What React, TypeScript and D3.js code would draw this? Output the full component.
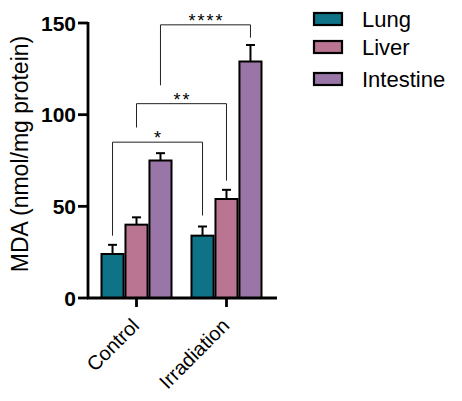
import React from 'react';
import * as d3 from 'd3';

// groups and tissues
const groups = ['Control', 'Irradiation'];
const tissues = ['Lung', 'Liver', 'Intestine'];
const tissueColors = ['#0f7388', '#b97592', '#9a76a8'];

// mean values and upper error (SD) per group, in tissue order
const controlMeans = [24, 40, 75];
const controlErr = [5, 4, 4];
const irradiationMeans = [34, 54, 129];
const irradiationErr = [5, 5, 9];

const yTicks = [0, 50, 100, 150];

// significance brackets between Control and Irradiation of the same tissue
const brackets = [
  { tissue: 0, label: '*', top: 85, leftEnd: 34, rightEnd: 45 },
  { tissue: 1, label: '**', top: 106, leftEnd: 93, rightEnd: 64 },
  { tissue: 2, label: '****', top: 149, leftEnd: 116, rightEnd: 142 },
];

const W = 462;
const H = 401;
const axisX = 88;

export default function App() {
  const y = d3.scaleLinear().domain([0, 150]).range([298, 23]);
  const x0 = d3.scaleBand().domain(groups).range([axisX, 275]).paddingInner(0.222).paddingOuter(0.15);
  const x1 = d3.scaleBand().domain(tissues).range([0, x0.bandwidth()]).paddingInner(0.08);

  const means = [controlMeans, irradiationMeans];
  const errs = [controlErr, irradiationErr];
  const font = 'Arial, "Liberation Sans", sans-serif';

  const barCenter = (g: number, t: number) => (x0(groups[g]) ?? 0) + (x1(tissues[t]) ?? 0) + x1.bandwidth() / 2;

  return (
    <svg width={W} height={H} style={{ position: 'absolute', left: 0, top: 0 }} fontFamily={font}>
      {/* bars */}
      {groups.map((g, gi) =>
        tissues.map((t, ti) => {
          const bx = (x0(g) ?? 0) + (x1(t) ?? 0);
          const cx = bx + x1.bandwidth() / 2;
          const top = y(means[gi][ti]);
          const errTop = y(means[gi][ti] + errs[gi][ti]);
          return (
            <g key={g + t}>
              <line x1={cx} x2={cx} y1={top} y2={errTop} stroke="#000" strokeWidth={2} />
              <line x1={cx - 4.5} x2={cx + 4.5} y1={errTop} y2={errTop} stroke="#000" strokeWidth={2} />
              <rect x={bx} y={top} width={x1.bandwidth()} height={y(0) - top}
                fill={tissueColors[ti]} stroke="#000" strokeWidth={2} />
            </g>
          );
        })
      )}

      {/* brackets */}
      {brackets.map((b, i) => {
        const lx = barCenter(0, b.tissue);
        const rx = barCenter(1, b.tissue);
        const ty = y(b.top);
        return (
          <g key={i}>
            <path d={`M${lx},${y(b.leftEnd)}V${ty}H${rx}V${y(b.rightEnd)}`} fill="none" stroke="#222" strokeWidth={1} />
            <text x={(lx + rx) / 2 + 1} y={ty + 2} textAnchor="middle" fontSize={18} letterSpacing={2}>{b.label}</text>
          </g>
        );
      })}

      {/* y axis */}
      <line x1={axisX} x2={axisX} y1={y(150) - 1} y2={y(0) + 1} stroke="#000" strokeWidth={2.8} />
      {yTicks.map(t => (
        <g key={t}>
          <line x1={axisX - 10} x2={axisX} y1={y(t)} y2={y(t)} stroke="#000" strokeWidth={2.8} />
          <text x={axisX - 12} y={y(t)} dy="0.36em" textAnchor="end" fontSize={21} fontWeight="bold">{t}</text>
        </g>
      ))}
      <text transform={`translate(28,154) rotate(-90)`} textAnchor="middle" fontSize={23}>
        MDA (nmol/mg protein)
      </text>

      {/* x axis */}
      <line x1={axisX - 1} x2={277} y1={y(0)} y2={y(0)} stroke="#000" strokeWidth={2.8} />
      {groups.map(g => {
        const cx = (x0(g) ?? 0) + x0.bandwidth() / 2;
        return (
          <g key={g}>
            <line x1={cx} x2={cx} y1={y(0)} y2={y(0) + 9} stroke="#000" strokeWidth={2.8} />
            <text transform={`translate(${cx + 4},${y(0) + 29}) rotate(-45)`} textAnchor="end" fontSize={20}>{g}</text>
          </g>
        );
      })}

      {/* legend */}
      {tissues.map((t, i) => {
        const baseline = [27, 55, 87][i];
        return (
          <g key={t}>
            <rect x={314} y={baseline - 14} width={28} height={12} fill={tissueColors[i]} stroke="#000" strokeWidth={2.2} />
            <text x={362} y={baseline} fontSize={22}>{t}</text>
          </g>
        );
      })}
    </svg>
  );
}
